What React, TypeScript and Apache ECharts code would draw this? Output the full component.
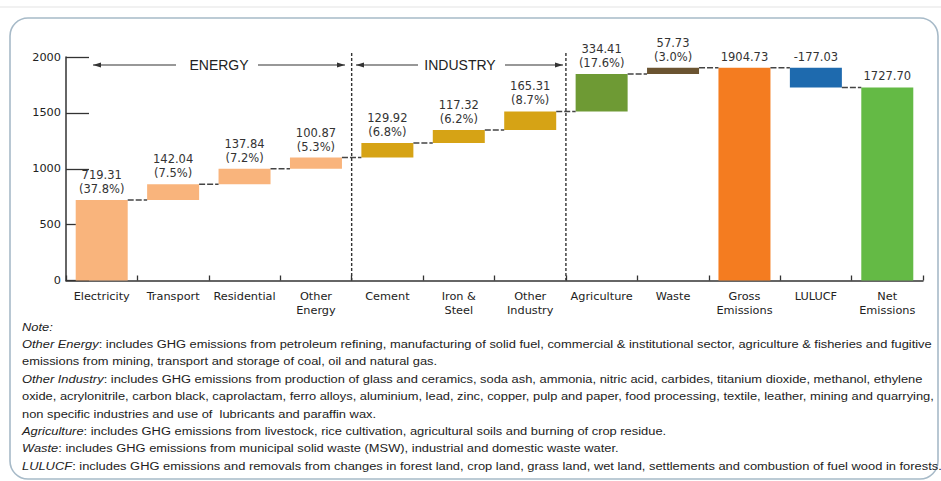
import React, { useEffect, useRef } from "react";
import * as echarts from "echarts";

const categories = [
  "Electricity", "Transport", "Residential", "Other\nEnergy", "Cement", "Iron &\nSteel",
  "Other\nIndustry", "Agriculture", "Waste", "Gross\nEmissions", "LULUCF", "Net\nEmissions",
];
// contribution of each sector (delta); totals for Gross and Net
const deltas = [719.31, 142.04, 137.84, 100.87, 129.92, 117.32, 165.31, 334.41, 57.73];
const grossTotal = 1904.73;
const lulucf = -177.03;
const netTotal = 1727.7;
const shares = ["37.8%", "7.5%", "7.2%", "5.3%", "6.8%", "6.2%", "8.7%", "17.6%", "3.0%"];
const yTicks = [0, 500, 1000, 1500, 2000];

const barColors = [
  "#F9B47C", "#F9B47C", "#F9B47C", "#F9B47C",
  "#D6A315", "#D6A315", "#D6A315",
  "#6E9A34", "#6B5431", "#F47C20", "#1E6AAE", "#64BA45",
];

const noteLines: [string, string][] = [
  ["Note:", ""],
  ["Other Energy", ": includes GHG emissions from petroleum refining, manufacturing of solid fuel, commercial & institutional sector, agriculture & fisheries and fugitive"],
  ["", "emissions from mining, transport and storage of coal, oil and natural gas."],
  ["Other Industry", ": includes GHG emissions from production of glass and ceramics, soda ash, ammonia, nitric acid, carbides, titanium dioxide, methanol, ethylene"],
  ["", "oxide, acrylonitrile, carbon black, caprolactam, ferro alloys, aluminium, lead, zinc, copper, pulp and paper, food processing, textile, leather, mining and quarrying,"],
  ["", "non specific industries and use of  lubricants and paraffin wax."],
  ["Agriculture", ": includes GHG emissions from livestock, rice cultivation, agricultural soils and burning of crop residue."],
  ["Waste", ": includes GHG emissions from municipal solid waste (MSW), industrial and domestic waste water."],
  ["LULUCF", ": includes GHG emissions and removals from changes in forest land, crop land, grass land, wet land, settlements and combustion of fuel wood in forests."],
];

const FONT = "'Liberation Sans', Arial, sans-serif";
const WIDE = "'DejaVu Sans', Verdana, sans-serif";

export default function App() {
  const ref = useRef<HTMLDivElement>(null);
  useEffect(() => {
    if (!ref.current) return;
    const chart = echarts.init(ref.current, undefined, { renderer: "svg" });

    // build waterfall bases and visible heights
    const base: number[] = [];
    const vis: number[] = [];
    let acc = 0;
    deltas.forEach((d) => {
      base.push(acc);
      vis.push(d);
      acc += d;
    });
    base.push(0); vis.push(grossTotal);
    base.push(grossTotal + lulucf); vis.push(-lulucf);
    base.push(0); vis.push(netTotal);

    const labels = vis.map((v, i) => {
      if (i < shares.length) return `${v.toFixed(2)}\n(${shares[i]})`;
      if (i === 10) return lulucf.toFixed(2);
      return v.toFixed(2);
    });

    const connectors: number[][] = [];
    for (let i = 0; i < 11; i++) {
      let level: number;
      if (i < 9) level = base[i] + vis[i];
      else if (i === 9) level = grossTotal;
      else level = base[10];
      connectors.push([i, level]);
    }

    const gl = 66, gw = 857, gt = 57, gh = 223.5;
    const cw = gw / categories.length;
    const arrowY = 65;
    const arrow = (x1: number, x2: number, headLeft: boolean) => {
      const hx = headLeft ? x1 : x2;
      const dir = headLeft ? 1 : -1;
      return [
        { type: "line", shape: { x1, y1: arrowY, x2, y2: arrowY }, style: { stroke: "#333", lineWidth: 1.2 } },
        {
          type: "polygon",
          shape: { points: [[hx, arrowY], [hx + dir * 8, arrowY - 2.5], [hx + dir * 8, arrowY + 2.5]] },
          style: { fill: "#333" },
        },
      ];
    };

    const graphics: any[] = [
      { type: "line", shape: { x1: 0, y1: 7, x2: 941, y2: 7 }, style: { stroke: "#e3e3e3", lineWidth: 1 }, z: 0 },
      {
        type: "rect",
        shape: { x: 10, y: 18, width: 928, height: 461, r: 18 },
        style: { fill: "none", stroke: "#a7bac8", lineWidth: 1.6 },
        z: 0,
      },
      ...arrow(93, 176, true),
      ...arrow(258, 345, false),
      { type: "text", x: 219, y: arrowY, style: { text: "ENERGY", fontSize: 14, fontFamily: FONT, fill: "#222", align: "center", verticalAlign: "middle" } },
      ...arrow(356, 418, true),
      ...arrow(505, 563, false),
      { type: "text", x: 460, y: arrowY, style: { text: "INDUSTRY", fontSize: 14, fontFamily: FONT, fill: "#222", align: "center", verticalAlign: "middle" } },
      {
        type: "line",
        shape: { x1: gl + cw * 4, y1: 53, x2: gl + cw * 4, y2: gt + gh },
        style: { stroke: "#333", lineWidth: 1.4, lineDash: [3, 2] },
        z: 10,
      },
      {
        type: "line",
        shape: { x1: gl + cw * 7, y1: 53, x2: gl + cw * 7, y2: gt + gh },
        style: { stroke: "#333", lineWidth: 1.4, lineDash: [3, 2] },
        z: 10,
      },
    ];

    noteLines.forEach(([it, rest], i) => {
      const text = (it ? `{i|${it}}` : "") + (rest ? `{n|${rest}}` : "");
      graphics.push({
        type: "text",
        x: 22,
        y: 327 + i * 17.4,
        scaleX: 1.172,
        style: {
          text,
          verticalAlign: "middle",
          fontSize: 11,
          fontFamily: FONT,
          fill: "#222",
          rich: {
            i: { fontStyle: "italic", fontSize: 11, fontFamily: FONT, fill: "#222" },
            n: { fontSize: 11, fontFamily: FONT, fill: "#222" },
          },
        },
      });
    });

    chart.setOption({
      animation: false,
      backgroundColor: "#ffffff",
      grid: { left: gl, top: gt, width: gw, height: gh, containLabel: false },
      xAxis: {
        type: "category",
        data: categories,
        boundaryGap: true,
        axisLine: { lineStyle: { color: "#333", width: 1.5 } },
        axisTick: { show: true, inside: true, length: 5, lineStyle: { color: "#333", width: 1.3 } },
        axisLabel: { fontSize: 11.3, fontFamily: WIDE, color: "#222", margin: 9, lineHeight: 14, interval: 0 },
      },
      yAxis: {
        type: "value",
        min: 0,
        max: 2000,
        interval: 500,
        axisLine: { show: true, lineStyle: { color: "#333", width: 1.5 } },
        axisTick: { show: true, inside: true, length: 23, lineStyle: { color: "#333", width: 1.3 } },
        splitLine: { show: false },
        axisLabel: {
          fontSize: 11.3, fontFamily: WIDE, color: "#222", margin: 5,
          formatter: (v: number) => (yTicks.includes(v) ? String(v) : ""),
        },
      },
      series: [
        {
          type: "bar",
          stack: "w",
          data: base,
          barWidth: 52,
          itemStyle: { color: "transparent" },
          silent: true,
          z: 1,
        },
        {
          type: "bar",
          stack: "w",
          barWidth: 52,
          data: vis.map((v, i) => ({ value: v, itemStyle: { color: barColors[i] } })),
          label: {
            show: true,
            position: "top",
            distance: 4,
            fontSize: 11.5,
            lineHeight: 14,
            fontFamily: WIDE,
            color: "#333",
            formatter: (p: any) => labels[p.dataIndex],
          },
          z: 3,
        },
        {
          type: "custom",
          data: connectors,
          z: 4,
          renderItem: (params: any, api: any) => {
            const i = api.value(0);
            const lv = api.value(1);
            const p1 = api.coord([i, lv]);
            const p2 = api.coord([i + 1, lv]);
            return {
              type: "line",
              shape: { x1: p1[0] + 26, y1: p1[1], x2: p2[0] - 26, y2: p2[1] },
              style: { stroke: "#444", lineWidth: 1.5, lineDash: [6, 2] },
            };
          },
        },
      ],
      graphic: graphics,
    });
    return () => chart.dispose();
  }, []);
  return (
    <div
      ref={ref}
      style={{ position: "absolute", left: 0, top: 0, width: 941, height: 481 }}
    />
  );
}
